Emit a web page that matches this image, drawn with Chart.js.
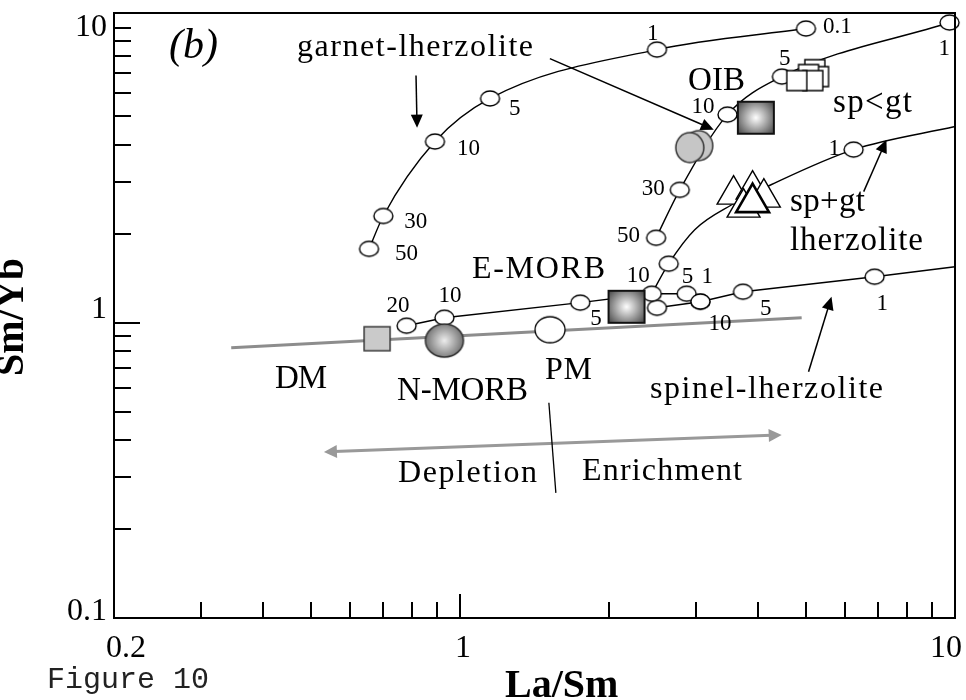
<!DOCTYPE html>
<html>
<head>
<meta charset="utf-8">
<title>La/Sm vs Sm/Yb</title>
<script src="https://cdn.jsdelivr.net/npm/chart.js@4.4.0/dist/chart.umd.min.js"></script>
<style>
  html, body { margin: 0; padding: 0; background: #fff; }
  #wrap { width: 966px; height: 700px; position: relative; }
</style>
</head>
<body>
<div id="wrap"><canvas id="chart" width="966" height="700"></canvas></div>
<script>
// ---- Melting curves (La/Sm, Sm/Yb) with degree-of-melting tags (%); null = plain vertex ----
const garnetLaSm = [0.655, 0.70, 0.89, 1.15, 2.50, 5.0];
const garnetSmYb = [1.78, 2.30, 4.11, 5.75, 8.42, 9.92];
const garnetMelt = ['50', '30', '10', '5', '1', '0.1'];

const spLtGtLaSm = [2.49, 2.78, 3.47, 4.47, 9.75];
const spLtGtSmYb = [1.94, 2.82, 5.07, 6.82, 10.4];
const spLtGtMelt = ['50', '30', '10', '5', '1'];

const spPlusGtLaSm = [2.44, 2.64, 2.98, 3.54, 4.26, 6.24, 10.0];
const spPlusGtSmYb = [1.254, 1.585, 2.067, 2.51, 2.94, 3.86, 4.62];
const spPlusGtMelt = [null, '', null, null, null, '1', null];

const spinelLaSm = [0.78, 0.93, 1.75, 2.44, 2.87, 3.06];
const spinelSmYb = [0.977, 1.04, 1.17, 1.254, 1.254, 1.18];
const spinelMelt = ['20', '10', '5', '10', '5', '1'];

const spinel2LaSm = [2.50, 3.06, 3.73, 6.88, 10.0];
const spinel2SmYb = [1.124, 1.178, 1.274, 1.432, 1.548];
const spinel2Melt = ['', '10', '5', '1', null];

// DM - PM mantle array
const mantleLaSm = [0.345, 4.9];
const mantleSmYb = [0.823, 1.04];

// Reservoirs and samples
const dmPoint = [0.68, 0.883];
const nmorbPoint = [0.93, 0.87];
const pmPoint = [1.52, 0.947];
const emorbPoint = [2.17, 1.133];
const oibPoint = [3.96, 4.95];
const greyLaSm = [3.036, 2.912];
const greySmYb = [3.98, 3.92];
const squareLaSm = [5.21, 5.30, 5.06, 5.16, 4.79];
const squareSmYb = [7.20, 6.82, 6.93, 6.61, 6.61];
const triangleLaSm = [3.57, 3.90, 4.11, 3.74, 3.90];
const triangleSmYb = [2.716, 2.824, 2.653, 2.454, 2.552];

// Axis tick labels
const xTickLabels = [0.2, 1, 10];
const yTickLabels = [0.1, 1, 10];

// ---- Layout / style (pixels) ----
const degreeLabelOffsets = {
  garnet: [[26, 11], [21, 12], [22, 13], [19, 17], [-10, -10], [17, 4]],
  spLtGt: [[-39, 4], [-38, 5], [-36, -2], [-3, -12], [-11, 32]],
  spPlusGt: [null, null, null, null, null, [-25, 5], null],
  spinel: [[-20, -14], [-6, -16], [10, 22], [-25, -12], [-5, -11], [1, -19]],
  spinel2: [null, [8, 28], [17, 23], [2, 33], null]
};
const xTickLabelShift = [12, 3, -9];
const yTickLabelShift = [2, -5, 8];

// text notes: left x, baseline y, font size, drawn width
const notes = [
  { t: 'garnet-lherzolite', x: 297, y: 56, s: 32, w: 236 },
  { t: 'OIB', x: 688, y: 90, s: 33, w: 57 },
  { t: 'sp<gt', x: 833, y: 112, s: 33, w: 79 },
  { t: 'E-MORB', x: 472, y: 278, s: 32, w: 133 },
  { t: 'DM', x: 275, y: 388, s: 33, w: 52 },
  { t: 'N-MORB', x: 397, y: 400, s: 33, w: 131 },
  { t: 'PM', x: 545, y: 379, s: 32, w: 47 },
  { t: 'sp+gt', x: 790, y: 211, s: 33, w: 75 },
  { t: 'lherzolite', x: 790, y: 250, s: 33, w: 133 },
  { t: 'spinel-lherzolite', x: 650, y: 398, s: 32, w: 233 },
  { t: 'Depletion', x: 398, y: 482, s: 32, w: 139 },
  { t: 'Enrichment', x: 582, y: 480, s: 32, w: 160 }
];

// arrows given in data space
const arrows = [
  { from: [0.815, 6.88], to: [0.819, 4.58], color: '#000', width: 1.5, both: false },
  { from: [1.519, 7.85], to: [3.256, 4.51], color: '#000', width: 1.5, both: false },
  { from: [6.54, 2.78], to: [7.27, 4.17], color: '#000', width: 1.5, both: false },
  { from: [5.06, 0.682], to: [5.63, 1.225], color: '#000', width: 1.5, both: false },
  { from: [0.531, 0.3653], to: [4.466, 0.417], color: '#999', width: 3, both: true }
];
const divider = { from: [1.512, 0.5357], to: [1.562, 0.2653] };

const SERIF = '"Liberation Serif", "Times New Roman", serif';

// ---- Marker images ----
function markerCanvas(w, h, shape, paint, stroke, lw) {
  const c = document.createElement('canvas');
  c.width = w + 4; c.height = h + 4;
  const g = c.getContext('2d');
  const cx = c.width / 2, cy = c.height / 2;
  g.beginPath();
  if (shape === 'ellipse') g.ellipse(cx, cy, w / 2, h / 2, 0, 0, Math.PI * 2);
  else g.rect(cx - w / 2, cy - h / 2, w, h);
  g.fillStyle = typeof paint === 'function' ? paint(g, cx, cy, w, h) : paint;
  g.fill();
  g.lineWidth = lw; g.strokeStyle = stroke; g.stroke();
  return c;
}
const glow = (inner, outer, k) => (g, cx, cy, w, h) => {
  const gr = g.createRadialGradient(cx, cy, 0, cx, cy, Math.max(w, h) * k);
  gr.addColorStop(0, inner); gr.addColorStop(1, outer);
  return gr;
};
const openCircle = markerCanvas(19, 15, 'ellipse', '#fff', '#000', 1.4);
const dmSquare = markerCanvas(26, 24, 'rect', '#cacaca', '#3a3a3a', 1.5);
const nmorbBall = markerCanvas(38, 33, 'ellipse', glow('#ededed', '#666', 0.55), '#2e2e2e', 1.5);
const pmBall = markerCanvas(30, 26, 'ellipse', '#fff', '#000', 1.3);
const gradSquare = markerCanvas(36, 32, 'rect', glow('#ffffff', '#4f4f4f', 0.62), '#111', 2);
const greyBall = markerCanvas(28, 30, 'ellipse', '#c6c6c6', '#333', 1.5);
const whiteSquare = markerCanvas(20, 20, 'rect', '#fff', '#000', 1.4);

const pts = (xs, ys) => xs.map((v, i) => ({ x: v, y: ys[i] }));
const marked = (xs, ys, tags) => pts(xs, ys).filter((p, i) => tags[i] !== null);

const curves = [
  { key: 'garnet', xs: garnetLaSm, ys: garnetSmYb, tags: garnetMelt, smooth: true },
  { key: 'spLtGt', xs: spLtGtLaSm, ys: spLtGtSmYb, tags: spLtGtMelt, smooth: true },
  { key: 'spPlusGt', xs: spPlusGtLaSm, ys: spPlusGtSmYb, tags: spPlusGtMelt, smooth: true },
  { key: 'spinel', xs: spinelLaSm, ys: spinelSmYb, tags: spinelMelt, smooth: false },
  { key: 'spinel2', xs: spinel2LaSm, ys: spinel2SmYb, tags: spinel2Melt, smooth: false }
];

const datasets = [];
datasets.push({
  data: pts(mantleLaSm, mantleSmYb), showLine: true, borderColor: '#8d8d8d', borderWidth: 3,
  pointRadius: 0, clip: false, order: 40
});
curves.forEach(c => {
  datasets.push({
    data: pts(c.xs, c.ys), showLine: true, borderColor: '#000', borderWidth: 1.4,
    pointRadius: 0, cubicInterpolationMode: c.smooth ? 'monotone' : 'default', tension: 0,
    clip: false, order: 30
  });
});
curves.forEach(c => {
  datasets.push({
    data: marked(c.xs, c.ys, c.tags), showLine: false, pointStyle: openCircle,
    pointRadius: 9, clip: false, order: 20
  });
});
const single = (p, img, r) => ({
  data: [{ x: p[0], y: p[1] }], showLine: false, pointStyle: img, pointRadius: r, clip: false, order: 10
});
datasets.push(single(dmPoint, dmSquare, 13));
datasets.push(single(nmorbPoint, nmorbBall, 19));
datasets.push(single(pmPoint, pmBall, 15));
datasets.push(single(emorbPoint, gradSquare, 18));
datasets.push(single(oibPoint, gradSquare, 18));
datasets.push({ data: pts(greyLaSm, greySmYb), showLine: false, pointStyle: greyBall, pointRadius: 15, clip: false, order: 10 });
datasets.push({ data: pts(squareLaSm, squareSmYb), showLine: false, pointStyle: whiteSquare, pointRadius: 10, clip: false, order: 10 });
datasets.push({
  data: pts(triangleLaSm, triangleSmYb), showLine: false, pointStyle: 'triangle', pointRadius: 19,
  backgroundColor: '#fff', borderColor: '#000',
  borderWidth: ctx => (ctx.dataIndex === triangleLaSm.length - 1 ? 2.6 : 1.4),
  clip: false, order: 10
});

function arrowHead(ctx, x0, y0, x1, y1, len, half, color) {
  const a = Math.atan2(y1 - y0, x1 - x0);
  ctx.beginPath();
  ctx.moveTo(x1, y1);
  ctx.lineTo(x1 - len * Math.cos(a) + half * Math.sin(a), y1 - len * Math.sin(a) - half * Math.cos(a));
  ctx.lineTo(x1 - len * Math.cos(a) - half * Math.sin(a), y1 - len * Math.sin(a) + half * Math.cos(a));
  ctx.closePath();
  ctx.fillStyle = color; ctx.fill();
}

// draw text stretched to a given width through letter spacing
function fitText(ctx, t, x, y, w) {
  ctx.letterSpacing = '0px';
  const m = ctx.measureText(t).width;
  const sp = t.length > 1 ? Math.max(-1, Math.min(8, (w - m) / (t.length - 1))) : 0;
  ctx.letterSpacing = sp.toFixed(2) + 'px';
  ctx.fillText(t, x, y);
  ctx.letterSpacing = '0px';
}

const decor = {
  id: 'decor',
  afterDatasetsDraw(chart) {
    const { ctx, chartArea: a, scales: { x, y } } = chart;
    const X = v => x.getPixelForValue(v), Y = v => y.getPixelForValue(v);
    ctx.save();

    // arrows
    arrows.forEach(ar => {
      const x0 = X(ar.from[0]), y0 = Y(ar.from[1]), x1 = X(ar.to[0]), y1 = Y(ar.to[1]);
      const len = 13, half = ar.both ? 6.5 : 6;
      const d = Math.hypot(x1 - x0, y1 - y0), ux = (x1 - x0) / d, uy = (y1 - y0) / d;
      ctx.beginPath();
      ctx.moveTo(ar.both ? x0 + ux * len * 0.8 : x0, ar.both ? y0 + uy * len * 0.8 : y0);
      ctx.lineTo(x1 - ux * len * 0.8, y1 - uy * len * 0.8);
      ctx.strokeStyle = ar.color; ctx.lineWidth = ar.width; ctx.stroke();
      arrowHead(ctx, x0, y0, x1, y1, len, half, ar.color);
      if (ar.both) arrowHead(ctx, x1, y1, x0, y0, len, half, ar.color);
    });
    ctx.beginPath();
    ctx.moveTo(X(divider.from[0]), Y(divider.from[1]));
    ctx.lineTo(X(divider.to[0]), Y(divider.to[1]));
    ctx.strokeStyle = '#000'; ctx.lineWidth = 1.3; ctx.stroke();

    // degree-of-melting tags
    ctx.fillStyle = '#000';
    ctx.textAlign = 'left'; ctx.textBaseline = 'alphabetic';
    ctx.font = '23px ' + SERIF;
    ctx.letterSpacing = '0px';
    curves.forEach(c => {
      const offs = degreeLabelOffsets[c.key];
      c.tags.forEach((t, i) => {
        if (!t || !offs[i]) return;
        ctx.fillText(t, X(c.xs[i]) + offs[i][0], Y(c.ys[i]) + offs[i][1]);
      });
    });

    // annotation text
    notes.forEach(n => {
      ctx.font = n.s + 'px ' + SERIF;
      fitText(ctx, n.t, n.x, n.y, n.w);
    });
    ctx.font = 'italic 42px ' + SERIF;
    ctx.fillText('(b)', 169, 58);

    // frame and inward ticks
    ctx.strokeStyle = '#000'; ctx.lineWidth = 2;
    ctx.strokeRect(a.left, a.top, a.right - a.left, a.bottom - a.top);
    ctx.beginPath();
    [0.1, 1].forEach(d => {
      for (let m = 1; m <= 9; m++) {
        const v = m * d;
        if (v <= 0.1 + 1e-9) continue;
        const yy = Math.round(Y(v));
        const len = Math.abs(v - 1) < 1e-9 ? 26 : 17;
        ctx.moveTo(a.left, yy); ctx.lineTo(a.left + len, yy);
      }
    });
    { const yy = Math.round(Y(10)); ctx.moveTo(a.left, yy); ctx.lineTo(a.left + 17, yy); }
    [0.1, 1].forEach(d => {
      for (let m = 1; m <= 9; m++) {
        const v = m * d;
        if (v <= 0.2 + 1e-9) continue;
        const xx = Math.round(X(v));
        const len = Math.abs(v - 1) < 1e-9 ? 24 : 16;
        ctx.moveTo(xx, a.bottom); ctx.lineTo(xx, a.bottom - len);
      }
    });
    ctx.stroke();

    // tick labels
    ctx.font = '32px ' + SERIF;
    ctx.textAlign = 'center';
    xTickLabels.forEach((v, i) => ctx.fillText(String(v), X(v) + xTickLabelShift[i], 657));
    ctx.textAlign = 'right';
    yTickLabels.forEach((v, i) => ctx.fillText(String(v), a.left - 7, Y(v) + yTickLabelShift[i]));

    // axis titles
    ctx.font = 'bold 40px ' + SERIF;
    ctx.textAlign = 'left';
    ctx.fillText('La/Sm', 505, 697);
    ctx.save();
    ctx.translate(23, 317);
    ctx.rotate(-Math.PI / 2);
    ctx.textAlign = 'center';
    ctx.fillText('Sm/Yb', 0, 0);
    ctx.restore();

    ctx.font = '30px "Liberation Mono", "Courier New", monospace';
    ctx.textAlign = 'left';
    ctx.fillStyle = '#222';
    ctx.fillText('Figure 10', 47, 688);
    ctx.restore();
  }
};

new Chart(document.getElementById('chart'), {
  type: 'scatter',
  data: { datasets },
  options: {
    responsive: false,
    animation: false,
    devicePixelRatio: 1,
    events: [],
    layout: { autoPadding: false, padding: { left: 114, right: 11, top: 13, bottom: 82 } },
    plugins: { legend: { display: false }, tooltip: { enabled: false } },
    scales: {
      x: { type: 'logarithmic', min: 0.2, max: 10, display: false },
      y: { type: 'logarithmic', min: 0.1, max: 11.2, display: false }
    }
  },
  plugins: [decor]
});
</script>
</body>
</html>
